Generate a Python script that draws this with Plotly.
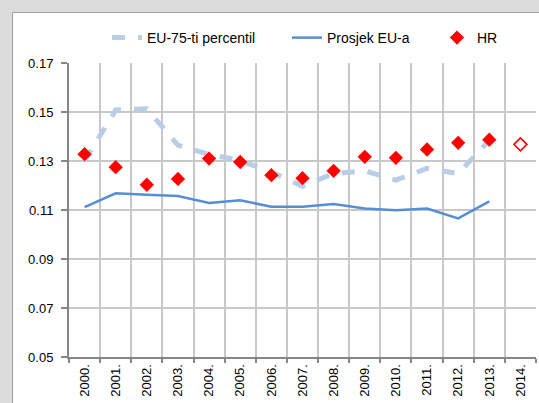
import plotly.graph_objects as go

years = ["2000.", "2001.", "2002.", "2003.", "2004.", "2005.", "2006.", "2007.",
         "2008.", "2009.", "2010.", "2011.", "2012.", "2013.", "2014."]
eu75 = [0.130, 0.1508, 0.1513, 0.1365, 0.1327, 0.1302, 0.1255, 0.1197,
        0.1249, 0.1260, 0.1222, 0.1270, 0.1249, 0.1385]
eu_avg = [0.1112, 0.1168, 0.1162, 0.1157, 0.1129, 0.1140, 0.1113, 0.1113,
          0.1124, 0.1106, 0.1099, 0.1106, 0.1066, 0.1135]
hr = [0.1328, 0.1275, 0.1203, 0.1227, 0.1310, 0.1296, 0.1242, 0.1230,
      0.1260, 0.1317, 0.1313, 0.1347, 0.1374, 0.1387]
hr_forecast = [0.1368]

W, H = 539, 403
ml, mr, mt, mb = 69, 3, 63, 46
pw, ph = W - ml - mr, H - mt - mb

def px_x(p):
    return (p - ml) / pw

def px_y(p):
    return (H - mb - p) / ph

fig = go.Figure()
fig.add_trace(go.Scatter(
    x=years[:len(eu75)], y=eu75, name="EU-75-ti percentil", mode="lines",
    line=dict(color="#b9cde5", width=5, dash="13px,13px"), legend="legend",
))
fig.add_trace(go.Scatter(
    x=years[:len(eu_avg)], y=eu_avg, name="Prosjek EU-a", mode="lines",
    line=dict(color="#558ed5", width=2.5), legend="legend2",
))
fig.add_trace(go.Scatter(
    x=years[:len(hr)], y=hr, name="HR", mode="markers",
    marker=dict(symbol="diamond", color="#ff0000", size=11, line=dict(width=0)),
    legend="legend3",
))
fig.add_trace(go.Scatter(
    x=years[len(hr):], y=hr_forecast, name="HR", mode="markers", showlegend=False,
    marker=dict(symbol="diamond-open", color="#ff0000", size=10, line=dict(width=1.6)),
    legend="legend3",
))

fig.add_shape(type="rect", xref="paper", yref="paper",
              x0=px_x(12.5), x1=px_x(560), y0=px_y(420), y1=px_y(12.5),
              fillcolor="white", line=dict(color="#a0a0a0", width=1), layer="below")

def leg(xpx):
    return dict(orientation="h", x=px_x(xpx), xanchor="left", y=px_y(38), yanchor="middle",
                bgcolor="rgba(0,0,0,0)", font=dict(size=14))

fig.update_layout(
    width=W, height=H,
    margin=dict(l=ml, r=mr, t=mt, b=mb, autoexpand=False),
    paper_bgcolor="#dcdcdc",
    plot_bgcolor="rgba(0,0,0,0)",
    font=dict(family="Liberation Sans, Arial, sans-serif", size=13, color="#000000"),
    showlegend=True,
    legend=leg(107), legend2=leg(287), legend3=leg(437),
)
fig.update_xaxes(
    type="category", categoryorder="array", categoryarray=years,
    tickson="boundaries", showgrid=True, gridcolor="#c8c8c8", gridwidth=1.5,
    showline=True, linecolor="#868686", linewidth=2,
    ticks="outside", ticklen=4, tickcolor="#868686", tickwidth=1.5,
    tickangle=-90, tickfont=dict(size=13), range=[-0.5, 14.5], automargin=False,
)
fig.update_yaxes(
    range=[0.05, 0.17], dtick=0.02, tick0=0.05, tickformat=".2f",
    showgrid=True, gridcolor="#c8c8c8", gridwidth=1.5,
    showline=True, linecolor="#868686", linewidth=2,
    ticks="outside", ticklen=6, tickcolor="#868686", tickwidth=1.5,
    ticklabelstandoff=5,
    tickfont=dict(size=13), zeroline=False, automargin=False,
)

fig.write_html("out.html", config={"displayModeBar": False},
               post_script="document.body.style.margin='0';document.body.style.overflow='hidden';")
